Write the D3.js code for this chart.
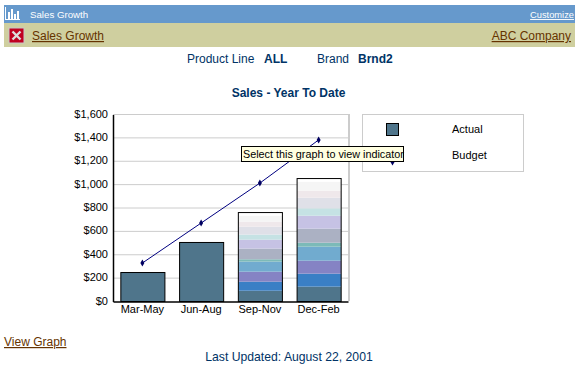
<!DOCTYPE html>
<html>
<head>
<meta charset="utf-8">
<script src="https://cdn.jsdelivr.net/npm/d3@7"></script>
<style>
html, body { margin: 0; padding: 0; background: #fff; }
svg { display: block; }
text { font-family: "Liberation Sans", Arial, sans-serif; }
</style>
</head>
<body>
<svg id="chart" width="580" height="370"></svg>
<script>
const categories = ["Mar-May", "Jun-Aug", "Sep-Nov", "Dec-Feb"]
const actual = [248, 505, 761, 1052]
const budget = [325, 667, 1009, 1378]
const yTicks = [0, 200, 400, 600, 800, 1000, 1200, 1400, 1600]

// stacked bands of the two last bars, bottom to top
const sepNovBands = [88, 77, 86, 86, 20, 91, 77, 43, 68, 43, 51, 31]
const decFebBands = [123, 111, 111, 120, 34, 120, 111, 63, 91, 60, 77, 31]
const bandColors = ["#4f758b", "#3a7fc5", "#8583c4", "#71abcf", "#7cbab8", "#abb1c3",
    "#c6c2e4", "#c5e2e4", "#dfe0e8", "#efe8eb", "#f5f5f5", "#ffffff"]

const navy = "#003366"
const brown = "#663300"

const svg = d3.select("#chart")

const margin = {top: 114, right: 232, bottom: 69, left: 113}
const width = 580
const height = 370

const xScale = d3.scaleBand()
    .domain(categories)
    .range([margin.left, width - margin.right])
    .paddingInner(0.25)
    .paddingOuter(0.125)
const yScale = d3.scaleLinear()
    .domain([0, 1600])
    .range([height - margin.bottom, margin.top])

function label(x, y, str, opts) {
    opts = opts || {}
    return svg.append("text")
        .attr("x", x)
        .attr("y", y)
        .attr("font-size", opts.size || 12)
        .attr("font-weight", opts.weight || "normal")
        .attr("text-anchor", opts.anchor || "start")
        .attr("fill", opts.fill || navy)
        .attr("text-decoration", opts.underline ? "underline" : "none")
        .text(str)
}

// page header
svg.append("rect").attr("x", 4).attr("y", 5).attr("width", 571).attr("height", 18).attr("fill", "#6699cc")
svg.append("rect").attr("x", 4).attr("y", 23).attr("width", 571).attr("height", 24).attr("fill", "#cfcf9f")

const icon = svg.append("g").attr("fill", "#fff")
icon.append("rect").attr("x", 5).attr("y", 7).attr("width", 1).attr("height", 13)
icon.append("rect").attr("x", 5).attr("y", 19).attr("width", 15).attr("height", 1)
;[[8, 12], [11, 9], [14, 14], [17, 11]].forEach(d => {
    icon.append("rect").attr("x", d[0]).attr("y", d[1]).attr("width", 2).attr("height", 20 - d[1])
})

svg.append("rect").attr("x", 9).attr("y", 28).attr("width", 15).attr("height", 15)
    .attr("fill", "#c00020").attr("stroke", "#c8c8c8").attr("stroke-width", 1)
svg.append("path").attr("d", "M12.5,31.5L20.5,39.5M20.5,31.5L12.5,39.5")
    .attr("stroke", "#ddd").attr("stroke-width", 2.4)

label(30, 18, "Sales Growth", {size: 9.7, fill: "#fff"})
label(574, 18, "Customize", {size: 9.3, fill: "#fff", anchor: "end", underline: true})
label(32, 40, "Sales Growth", {fill: brown, underline: true})
label(571, 40, "ABC Company", {fill: brown, anchor: "end", underline: true})

label(187, 63, "Product Line")
label(264, 63, "ALL", {weight: "bold"})
label(317, 63, "Brand")
label(358, 63, "Brnd2", {weight: "bold"})
label(288.5, 97, "Sales - Year To Date", {weight: "bold", anchor: "middle"})

// plot frame and gridlines
svg.append("g")
    .selectAll("line")
    .data(yTicks.slice(1))
    .join("line")
    .attr("x1", margin.left)
    .attr("x2", width - margin.right)
    .attr("y1", d => yScale(d) + 0.5)
    .attr("y2", d => yScale(d) + 0.5)
    .attr("stroke", "#cccccc")
svg.append("rect")
    .attr("x", width - margin.right)
    .attr("y", margin.top)
    .attr("width", 2)
    .attr("height", height - margin.top - margin.bottom)
    .attr("fill", "#cccccc")

// bars
const bars = svg.append("g")
bars.selectAll("rect")
    .data(actual.slice(0, 2))
    .join("rect")
    .attr("x", (d, i) => xScale(categories[i]) + 0.5)
    .attr("y", d => yScale(d) + 0.5)
    .attr("width", xScale.bandwidth())
    .attr("height", d => yScale(0) - yScale(d))
    .attr("fill", bandColors[0])
    .attr("stroke", "#000")

function stackedBar(cat, total, bands) {
    let sum = 0
    let offsets = bands.map(v => {
        let o = {y0: sum, y1: Math.min(sum + v, total)}
        sum += v
        return o
    })
    bars.append("g")
        .selectAll("rect")
        .data(offsets)
        .join("rect")
        .attr("x", xScale(cat) + 0.5)
        .attr("y", d => yScale(d.y1))
        .attr("width", xScale.bandwidth())
        .attr("height", d => Math.max(0, yScale(d.y0) - yScale(d.y1)))
        .attr("fill", (d, i) => bandColors[i])
    bars.append("rect")
        .attr("x", xScale(cat) + 0.5)
        .attr("y", yScale(total) + 0.5)
        .attr("width", xScale.bandwidth())
        .attr("height", yScale(0) - yScale(total))
        .attr("fill", "none")
        .attr("stroke", "#000")
}
stackedBar(categories[2], actual[2], sepNovBands)
stackedBar(categories[3], actual[3], decFebBands)

// budget line
let line = d3.line()
    .x((d, i) => xScale(categories[i]) + xScale.bandwidth() / 2)
    .y(d => yScale(d))
svg.append("path")
    .datum(budget)
    .attr("fill", "none")
    .attr("stroke", "#000080")
    .attr("stroke-width", 1)
    .attr("d", line)
svg.append("g")
    .selectAll("path")
    .data(budget)
    .join("path")
    .attr("transform", (d, i) => `translate(${xScale(categories[i]) + xScale.bandwidth() / 2},${yScale(d)})`)
    .attr("d", d3.symbol(d3.symbolDiamond, 14))
    .attr("fill", "#000060")

// axes
let yAxis = g => g
    .attr("transform", `translate(${margin.left},0.5)`)
    .call(d3.axisLeft(yScale).tickValues(yTicks).tickSize(0).tickPadding(5).tickFormat(d3.format("$,")))
let xAxis = g => g
    .attr("transform", `translate(0,${yScale(0) + 0.5})`)
    .call(d3.axisBottom(xScale).tickSize(0).tickPadding(4))
svg.append("g").call(yAxis)
svg.append("g").call(xAxis)
svg.selectAll(".tick text")
    .attr("font-family", '"Liberation Sans", Arial, sans-serif')
    .attr("font-size", 11)
    .attr("fill", "#000")
svg.selectAll(".tick text").filter(function () { return this.getAttribute("x") !== null })
    .attr("y", -1)
svg.selectAll(".domain").attr("stroke", "#000").attr("stroke-width", 1.5)

// legend
svg.append("rect").attr("x", 362.5).attr("y", 114.5).attr("width", 161).attr("height", 57)
    .attr("fill", "#fff").attr("stroke", "#cccccc")
svg.append("rect").attr("x", 386.5).attr("y", 123.5).attr("width", 12).attr("height", 12)
    .attr("fill", bandColors[0]).attr("stroke", "#000")
svg.append("path").attr("transform", "translate(392.5,161)")
    .attr("d", d3.symbol(d3.symbolDiamond, 24)).attr("fill", "#000060")
label(452, 133, "Actual", {size: 11, fill: "#000"})
label(452, 159, "Budget", {size: 11, fill: "#000"})

// tooltip
svg.append("rect").attr("x", 241.5).attr("y", 146.5).attr("width", 162).attr("height", 15)
    .attr("fill", "#ffffe1").attr("stroke", "#000")
label(243, 158, "Select this graph to view indicator", {size: 10.8, fill: "#000"})

// footer
label(4, 346, "View Graph", {fill: brown, underline: true})
label(289, 361, "Last Updated: August 22, 2001", {anchor: "middle", size: 12.2})
</script>
</body>
</html>
